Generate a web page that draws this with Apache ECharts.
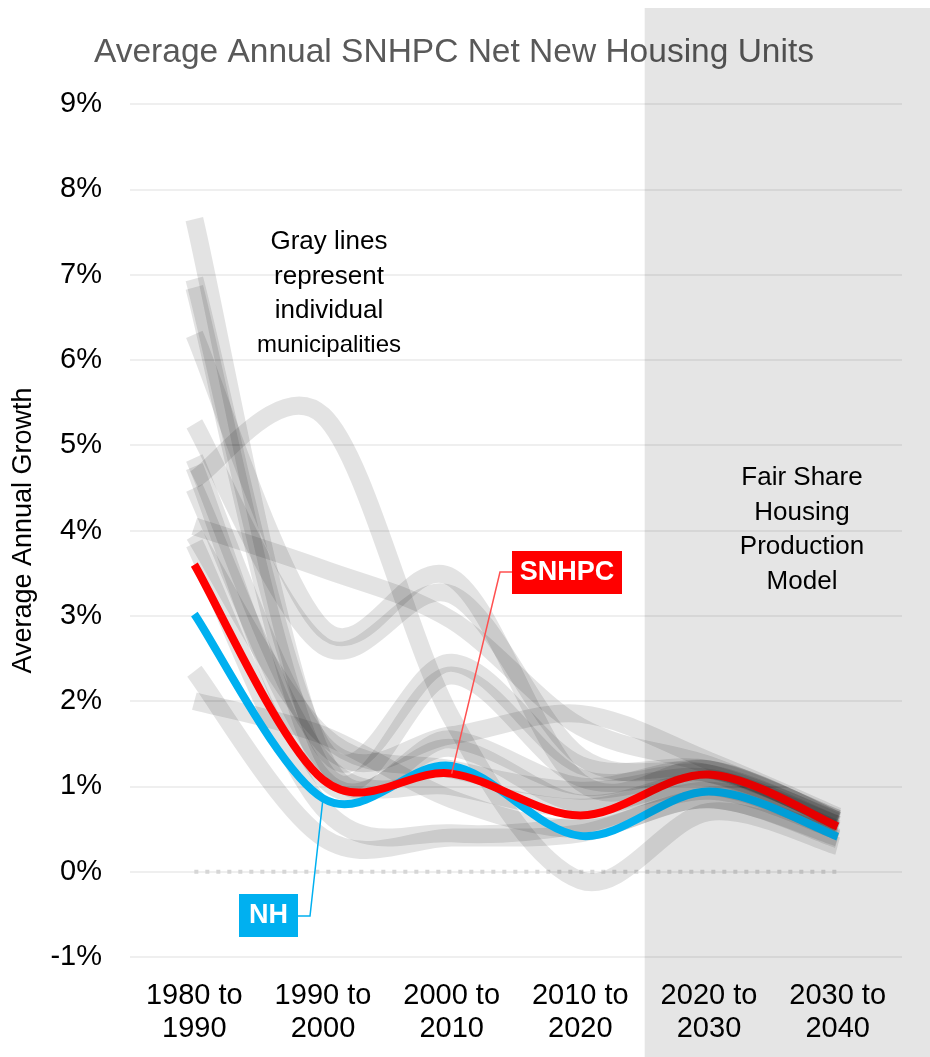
<!DOCTYPE html>
<html>
<head>
<meta charset="utf-8">
<script src="https://cdn.jsdelivr.net/npm/echarts@6/dist/echarts.min.js"></script>
<style>
  html, body { margin: 0; padding: 0; background: #fff; }
  #main { width: 930px; height: 1057px; }
</style>
</head>
<body>
<div id="main"></div>
<script>

// decades on the x axis
const categories = ['1980 to\n1990', '1990 to\n2000', '2000 to\n2010', '2010 to\n2020', '2020 to\n2030', '2030 to\n2040'];

// regional and state averages (% per year)
const snhpc = [3.6, 1.08, 1.15, 0.66, 1.14, 0.53];
const nh    = [3.02, 0.86, 1.24, 0.42, 0.94, 0.41];
const zeroLine = [0, 0, 0, 0, 0, 0];

// individual municipalities
const muni01 = [7.65, 1.35, 1.55, 1.0, 1.2, 0.6];
const muni02 = [6.95, 1.45, 2.45, 1.25, 1.2, 0.62];
const muni03 = [6.85, 1.2, 2.3, 1.1, 1.15, 0.58];
const muni04 = [6.3, 2.85, 3.45, 1.05, 1.2, 0.6];
const muni05 = [5.25, 2.65, 3.25, 1.35, 1.15, 0.6];
const muni06 = [4.85, 1.5, 1.6, 1.85, 1.3, 0.65];
const muni07 = [4.75, 1.1, 1.45, 0.8, 1.05, 0.55];
const muni08 = [4.6, 5.35, 1.8, -0.1, 0.7, 0.3];
const muni09 = [4.5, 1.3, 1.0, 0.75, 1.0, 0.5];
const muni10 = [4.05, 3.55, 2.95, 1.7, 1.25, 0.62];
const muni11 = [3.95, 1.6, 1.2, 0.95, 1.1, 0.55];
const muni12 = [3.85, 0.75, 0.45, 0.55, 0.95, 0.48];
const muni13 = [2.35, 0.4, 0.4, 0.45, 0.85, 0.38];
const muni14 = [2.0, 1.6, 0.85, 0.5, 0.85, 0.4];

const yTicks = { min: -1, max: 9, interval: 1 };

const FONT = '"Liberation Sans", Arial, sans-serif';

const munis = [muni01, muni02, muni03, muni04, muni05, muni06, muni07,
               muni08, muni09, muni10, muni11, muni12, muni13, muni14];


// spreadsheet style smoothing (catmull-rom through every point)
function smoothPath(pts)
{
   var d = 'M' + pts[0][0] + ',' + pts[0][1];
   for (var i=0; i<pts.length-1; i++)
   {
      var p0 = pts[i-1] || pts[i];
      var p1 = pts[i];
      var p2 = pts[i+1];
      var p3 = pts[i+2] || pts[i+1];
      var c1x = p1[0] + (p2[0] - p0[0]) / 6, c1y = p1[1] + (p2[1] - p0[1]) / 6;
      var c2x = p2[0] - (p3[0] - p1[0]) / 6, c2y = p2[1] - (p3[1] - p1[1]) / 6;
      d += ' C' + c1x + ',' + c1y + ' ' + c2x + ',' + c2y + ' ' + p2[0] + ',' + p2[1];
   }
   return d;
}

function curveSeries(name, values, color, width, z)
{
   return {
      name: name,
      type: 'custom',
      coordinateSystem: 'cartesian2d',
      silent: true,
      z: z,
      data: values.map((v, i) => [i, v]),
      encode: { x: 0, y: 1 },
      renderItem: function (params, api)
      {
         if (params.dataIndex !== 0) return null;
         const pts = values.map((v, i) => api.coord([i, v]));
         return {
            type: 'path',
            shape: { pathData: smoothPath(pts) },
            style: { fill: 'none', stroke: color, lineWidth: width, lineCap: 'butt', lineJoin: 'round' }
         };
      }
   };
}

const chart = echarts.init(document.getElementById('main'));

const series = [];

// dotted zero line
series.push({
   type: 'line', data: zeroLine, symbol: 'none', silent: true, z: 1,
   lineStyle: { color: '#d6d6d6', width: 4, type: [4, 7] }
});

munis.forEach((m, i) => series.push(curveSeries('muni' + (i+1), m, 'rgba(0,0,0,0.11)', 18, 2)));

series.push(curveSeries('NH', nh, '#00b0f0', 8, 3));
series.push(curveSeries('SNHPC', snhpc, '#ff0000', 8, 4));

chart.setOption({
   animation: false,
   title: {
      text: 'Average Annual SNHPC Net New Housing Units',
      left: 89, top: 31,
      textStyle: { fontFamily: FONT, fontSize: 33.5, fontWeight: 'normal', color: '#595959' }
   },
   grid: { left: 130, right: 28, top: 104, bottom: 100, containLabel: false, outerBoundsMode: 'none' },
   xAxis: {
      type: 'category',
      data: categories,
      boundaryGap: true,
      axisLine: { show: false },
      axisTick: { show: false },
      axisLabel: { fontFamily: FONT, fontSize: 29, color: '#000', lineHeight: 33, margin: 22, interval: 0 }
   },
   yAxis: {
      type: 'value',
      min: yTicks.min, max: yTicks.max, interval: yTicks.interval,
      name: 'Average Annual Growth',
      nameLocation: 'middle',
      nameGap: 93,
      nameRotate: 90,
      nameTextStyle: { fontFamily: FONT, fontSize: 27, color: '#000' },
      axisLine: { show: false },
      axisTick: { show: false },
      axisLabel: { fontFamily: FONT, fontSize: 29, color: '#000', margin: 28, formatter: '{value}%' },
      splitLine: { lineStyle: { color: '#efefef', width: 2 } }
   },
   series: series
});

// annotations, placed after the scales exist
const xb = (chart.convertToPixel({ xAxisIndex: 0 }, 3) + chart.convertToPixel({ xAxisIndex: 0 }, 4)) / 2;
const pSn = chart.convertToPixel({ gridIndex: 0 }, [2, snhpc[2]]);
const pNh = chart.convertToPixel({ gridIndex: 0 }, [1, nh[1]]);

chart.setOption({
   graphic: [
      { type: 'rect', z: 100, silent: true,
        shape: { x: xb, y: 8, width: 930 - xb, height: 1049 },
        style: { fill: 'rgba(0,0,0,0.1)' } },
      { type: 'text', z: 101, x: 329, y: 225,
        style: { text: 'Gray lines\nrepresent\nindividual\n{s|municipalities}', align: 'center',
                 font: '26px ' + FONT, fill: '#000', lineHeight: 34.5,
                 rich: { s: { fontFamily: FONT, fontSize: 24, lineHeight: 34.5 } } } },
      { type: 'text', z: 101, x: 802, y: 461,
        style: { text: 'Fair Share\nHousing\nProduction\nModel', align: 'center',
                 font: '26px ' + FONT, fill: '#000', lineHeight: 34.5 } },
      // SNHPC callout
      { type: 'polyline', z: 101, silent: true,
        shape: { points: [[512, 572], [500, 572], pSn] },
        style: { stroke: '#ff5050', lineWidth: 1.5, fill: null } },
      { type: 'rect', z: 101, shape: { x: 512, y: 551, width: 110, height: 43 },
        style: { fill: '#ff0000' } },
      { type: 'text', z: 102, x: 567, y: 573,
        style: { text: 'SNHPC', align: 'center', verticalAlign: 'middle',
                 font: 'bold 27px ' + FONT, fill: '#fff' } },
      // NH callout
      { type: 'polyline', z: 101, silent: true,
        shape: { points: [[298, 916], [310, 916], pNh] },
        style: { stroke: '#00b0f0', lineWidth: 1.5, fill: null } },
      { type: 'rect', z: 101, shape: { x: 239, y: 894, width: 59, height: 43 },
        style: { fill: '#00b0f0' } },
      { type: 'text', z: 102, x: 268.5, y: 916,
        style: { text: 'NH', align: 'center', verticalAlign: 'middle',
                 font: 'bold 27px ' + FONT, fill: '#fff' } }
   ]
});

</script>
</body>
</html>
